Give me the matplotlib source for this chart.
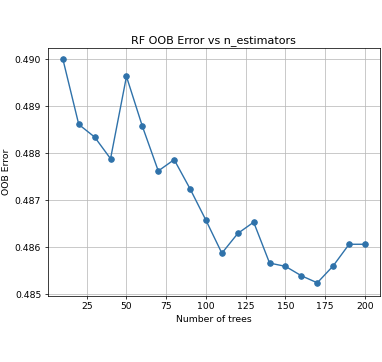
import matplotlib
matplotlib.use("Agg")
import matplotlib.pyplot as plt

n_trees = [10, 20, 30, 40, 50, 60, 70, 80, 90, 100,
           110, 120, 130, 140, 150, 160, 170, 180, 190, 200]
oob_error = [0.49000, 0.48861, 0.48834, 0.48788, 0.48963, 0.48857, 0.48762,
             0.48786, 0.48724, 0.48657, 0.48587, 0.48629, 0.48653, 0.48566,
             0.48559, 0.48539, 0.48524, 0.48560, 0.48606, 0.48606]

DPI = 67
fig = plt.figure(figsize=(382 / DPI, 362 / DPI), dpi=DPI)
ax = fig.add_axes([0.125, 0.1837, 0.870, 0.683])
ax.plot(n_trees, oob_error, marker='o', color='#2f72aa')
ax.set_title("RF OOB Error vs n_estimators")
ax.set_xlabel("Number of trees")
ax.set_ylabel("OOB Error")
ax.set_ylim(0.48497, 0.49023)
ax.grid(True, color='#b8b8b8')
fig.savefig("out.png", dpi=DPI)
